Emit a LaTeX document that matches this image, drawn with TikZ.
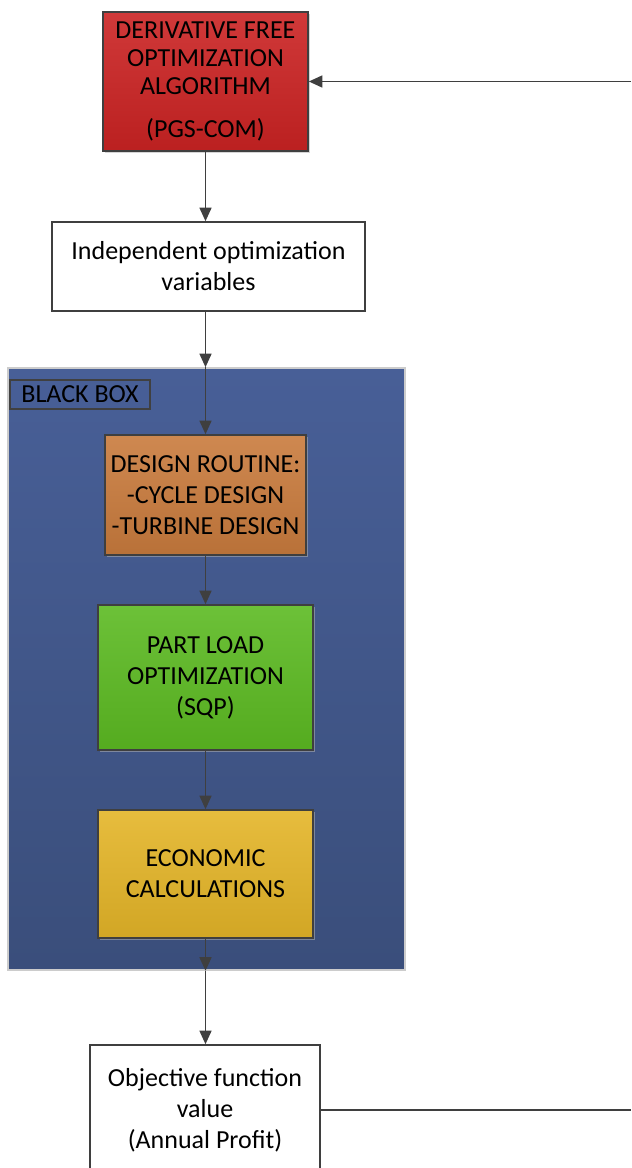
\documentclass[tikz,border=0pt]{standalone}
\usepackage{fontspec}
\setmainfont{Carlito}
\usetikzlibrary{arrows.meta,positioning,calc,shadows}
\definecolor{algred}{HTML}{CB2323}
\definecolor{desorange}{HTML}{C97B3D}
\definecolor{plgreen}{HTML}{5CBA22}
\definecolor{ecoyellow}{HTML}{E4B528}
\definecolor{bbtop}{HTML}{485F97}
\definecolor{bbbot}{HTML}{3A4E7B}
\definecolor{linegray}{HTML}{3F3F3F}
\tikzset{
  blok/.style={rectangle, draw=linegray, line width=1.1pt, top color=#1!90!white, bottom color=#1!92!black,
               align=center, font=\fontsize{18.5}{22}\selectfont, text=black, inner sep=2pt,
               drop shadow={shadow xshift=1.6pt, shadow yshift=-1.6pt, fill=gray!60, opacity=.55}},
  wbox/.style={rectangle, draw=linegray, line width=1.1pt, fill=white,
               align=center, font=\fontsize{18.5}{22}\selectfont, text=black, inner sep=2pt},
  arr/.style={-{Triangle[length=3.4mm, width=3mm]}, line width=1.2pt, draw=linegray},
  ln/.style={line width=1.2pt, draw=linegray},
}

\begin{document}
\begin{tikzpicture}[x=0.025cm, y=-0.025cm]
    \useasboundingbox (0,0) rectangle (631,1168);
    % black box background
    \node[rectangle, draw=black!20!white, line width=1pt, top color=bbtop, bottom color=bbbot,
          minimum width=9.925cm, minimum height=15.05cm, inner sep=0pt] (bb) at (206.5,669) {};
    \node[rectangle, draw=black!75, line width=1.1pt, minimum width=3.5cm, minimum height=0.725cm,
          inner sep=0pt, font=\fontsize{18.5}{20}\selectfont, text=black] (bblabel) at (80,394.5) {BLACK BOX};

    \node[blok=algred, minimum width=5.125cm, minimum height=3.475cm,
          font=\fontsize{18.5}{20}\selectfont] (alg) at (205.5,81.5)
      {DERIVATIVE FREE\\OPTIMIZATION\\ALGORITHM\\[11pt](PGS-COM)};
    \node[wbox, minimum width=7.825cm, minimum height=2.225cm] (indep) at (208.5,266.5)
      {Independent optimization\\variables};
    \node[blok=desorange, minimum width=5.025cm, minimum height=3cm] (design) at (205.5,495)
      {DESIGN ROUTINE:\\-CYCLE DESIGN\\-TURBINE DESIGN};
    \node[blok=plgreen, minimum width=5.375cm, minimum height=3.625cm] (partload) at (205.5,677.5)
      {PART LOAD\\OPTIMIZATION\\(SQP)};
    \node[blok=ecoyellow, minimum width=5.375cm, minimum height=3.2cm] (econ) at (205.5,874)
      {ECONOMIC\\CALCULATIONS};
    \node[wbox, minimum width=5.75cm, minimum height=3.25cm] (obj) at (205,1110)
      {Objective function\\value\\(Annual Profit)};

    \coordinate (rtop) at (631,81.5);
    \coordinate (rbot) at (631,1110);

    \draw[arr] (alg.south) -- (alg.south |- indep.north);
    \draw[arr] (alg.south |- indep.south) -- (alg.south |- bb.north);
    \draw[arr] (alg.south |- bb.north) -- (design.north);
    \draw[arr] (design.south) -- (partload.north);
    \draw[arr] (partload.south) -- (econ.north);
    \draw[arr] (econ.south) -- (econ.south |- bb.south);
    \draw[arr] (econ.south |- bb.south) -- (econ.south |- obj.north);
    \draw[ln] (obj.east) -- (rbot);
    \draw[arr] (rtop) -- (alg.east);
  \end{tikzpicture}
\end{document}
